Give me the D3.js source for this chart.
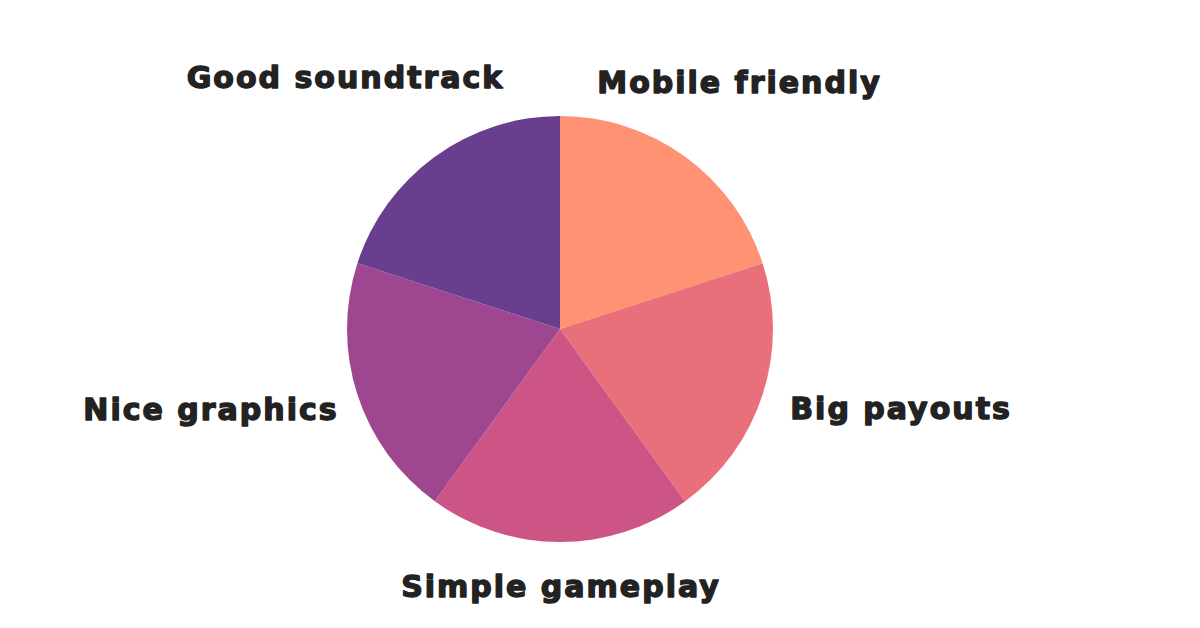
<!DOCTYPE html>
<html>
<head>
<meta charset="utf-8">
<script src="https://cdn.jsdelivr.net/npm/d3@7"></script>
<style>
    html, body { margin: 0; padding: 0; background: #ffffff; }
    svg { display: block; }
</style>
</head>
<body>
<div class="chart"></div>
<script>
// slice data, clockwise from 12 o'clock
const categories = ["Mobile friendly", "Big payouts", "Simple gameplay", "Nice graphics", "Good soundtrack"];
const shares = [20, 20, 20, 20, 20];
const sliceColors = ["#fe9272", "#e9707a", "#cc5586", "#9f4690", "#6a3e8e"];

// label layout: small nudges off the label arc centroid
const labelNudge = [[12, -17], [70, -9], [1, -28], [-78, -8], [-47, -22]];

const width = 1200;
const height = 628;
const cx = 560;
const cy = 329;
const radius = 213;
const labelRadius = 285;

const svg = d3.select(".chart")
    .append("svg")
    .attr("width", width)
    .attr("height", height);

const g = svg.append("g")
    .attr("transform", `translate(${cx},${cy})`);

const color = d3.scaleOrdinal(categories, sliceColors);

const pie = d3.pie()
    .sort(null)
    .value((d, i) => shares[i]);

const arcs = pie(categories);

const arc = d3.arc()
    .innerRadius(0)
    .outerRadius(radius);

const labelArc = d3.arc()
    .innerRadius(labelRadius)
    .outerRadius(labelRadius);

g.append("g")
    .selectAll("path")
    .data(arcs)
    .join("path")
    .attr("fill", d => color(d.data))
    .attr("d", arc);

// heavy display look: bold face plus a thin stroke of the same colour
g.append("g")
    .attr("font-family", "'DejaVu Sans', sans-serif")
    .attr("font-weight", "bold")
    .attr("font-size", 30)
    .attr("fill", "#222222")
    .attr("stroke", "#222222")
    .attr("stroke-width", 1.4)
    .attr("stroke-linejoin", "round")
    .attr("text-anchor", "middle")
    .selectAll("text")
    .data(arcs)
    .join("text")
    .attr("transform", (d, i) => {
        const [x, y] = labelArc.centroid(d);
        return `translate(${x + labelNudge[i][0]},${y + labelNudge[i][1]})`;
    })
    .attr("dy", "0.37em")
    .style("letter-spacing", "2px")
    .text(d => d.data);
</script>
</body>
</html>
